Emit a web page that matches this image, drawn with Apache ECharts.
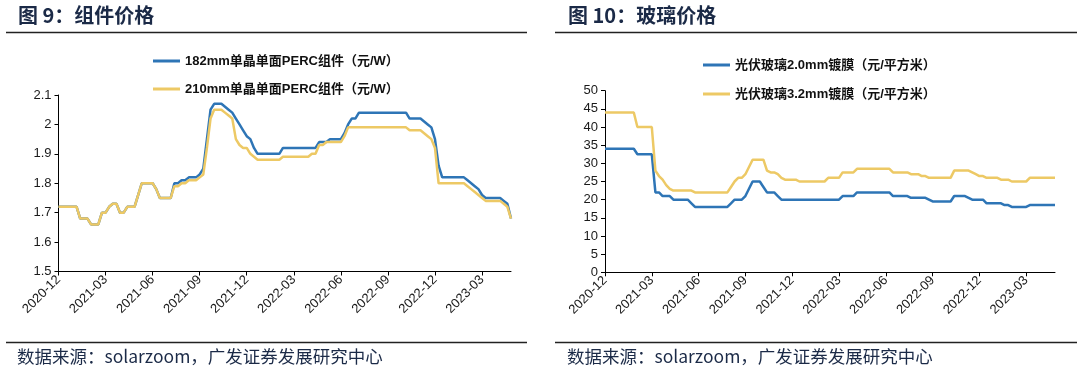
<!DOCTYPE html>
<html><head><meta charset="utf-8">
<script src="https://cdn.jsdelivr.net/npm/echarts@6/dist/echarts.min.js"></script>
<style>html,body{margin:0;padding:0;background:#fff}#c{width:1080px;height:370px}</style>
</head><body><div id="c"></div>
<script>
const weeks = [
'2020-12-04','2020-12-11','2020-12-18','2020-12-25',
'2021-01-01','2021-01-08','2021-01-15','2021-01-22','2021-01-29','2021-02-05','2021-02-12','2021-02-19','2021-02-26',
'2021-03-05','2021-03-12','2021-03-19','2021-03-26','2021-04-02','2021-04-09','2021-04-16','2021-04-23','2021-04-30',
'2021-05-07','2021-05-14','2021-05-21','2021-05-28','2021-06-04','2021-06-11','2021-06-18','2021-06-25','2021-07-02',
'2021-07-09','2021-07-16','2021-07-23','2021-07-30','2021-08-06','2021-08-13','2021-08-20','2021-08-27','2021-09-03',
'2021-09-10','2021-09-17','2021-09-24','2021-10-01','2021-10-08','2021-10-15','2021-10-22','2021-10-29','2021-11-05',
'2021-11-12','2021-11-19','2021-11-26','2021-12-03','2021-12-10','2021-12-17','2021-12-24','2021-12-31',
'2022-01-07','2022-01-14','2022-01-21','2022-01-28','2022-02-04','2022-02-11','2022-02-18','2022-02-25','2022-03-04',
'2022-03-11','2022-03-18','2022-03-25','2022-04-01','2022-04-08','2022-04-15','2022-04-22','2022-04-29','2022-05-06',
'2022-05-13','2022-05-20','2022-05-27','2022-06-03','2022-06-10','2022-06-17','2022-06-24','2022-07-01','2022-07-08',
'2022-07-15','2022-07-22','2022-07-29','2022-08-05','2022-08-12','2022-08-19','2022-08-26','2022-09-02','2022-09-09',
'2022-09-16','2022-09-23','2022-09-30','2022-10-07','2022-10-14','2022-10-21','2022-10-28','2022-11-04','2022-11-11',
'2022-11-18','2022-11-25','2022-12-02','2022-12-09','2022-12-16','2022-12-23','2022-12-30',
'2023-01-06','2023-01-13','2023-01-20','2023-01-27','2023-02-03','2023-02-10','2023-02-17','2023-02-24','2023-03-03',
'2023-03-10','2023-03-17','2023-03-24','2023-03-31','2023-04-07','2023-04-14','2023-04-21','2023-04-28'
];
const module182 = [
1.72,1.72,1.72,1.72,1.72,1.72, 1.68,1.68,1.68, 1.66,1.66,1.66, 1.70,1.70, 1.72, 1.73,1.73, 1.70,1.70,
1.72,1.72,1.72, 1.76, 1.80,1.80,1.80,1.80, 1.78, 1.75,1.75,1.75,1.75,
1.80,1.80, 1.81,1.81, 1.82,1.82,1.82, 1.83, 1.85, 1.95, 2.05, 2.07,2.07,2.07, 2.06, 2.05, 2.04, 2.02, 2.00,
1.98, 1.96, 1.95, 1.92, 1.90,1.90,1.90,1.90,1.90,1.90,1.90,
1.92,1.92,1.92,1.92,1.92,1.92,1.92,1.92,1.92,1.92, 1.94,1.94,1.94, 1.95,1.95,1.95,1.95, 1.97, 2.00, 2.02,2.02,
2.04,2.04,2.04,2.04,2.04,2.04,2.04,2.04,2.04,2.04,2.04,2.04,2.04,2.04,
2.02,2.02,2.02,2.02, 2.01, 2.00, 1.99, 1.95, 1.86,
1.82,1.82,1.82,1.82,1.82,1.82,1.82, 1.81, 1.80, 1.79, 1.78, 1.76, 1.75,1.75,1.75,1.75,1.75, 1.74, 1.73, 1.68
];
const module210 = [
1.72,1.72,1.72,1.72,1.72,1.72, 1.68,1.68,1.68, 1.66,1.66,1.66, 1.70,1.70, 1.72, 1.73,1.73, 1.70,1.70,
1.72,1.72,1.72, 1.76, 1.80,1.80,1.80,1.80, 1.78, 1.75,1.75,1.75,1.75,
1.79,1.79, 1.80,1.80, 1.81,1.81,1.81, 1.82, 1.83, 1.92, 2.02, 2.05,2.05,2.05, 2.04, 2.03, 2.02, 1.95, 1.93,
1.92,1.92, 1.90, 1.89, 1.88,1.88,1.88,1.88,1.88,1.88,1.88,
1.89,1.89,1.89,1.89,1.89,1.89,1.89,1.89, 1.90,1.90, 1.93,1.93, 1.94,1.94,1.94,1.94,1.94, 1.96,
1.99,1.99,1.99,1.99,1.99,1.99,1.99,1.99,1.99,1.99,1.99,1.99,1.99,1.99,1.99,1.99,1.99,
1.98,1.98,1.98,1.98, 1.97, 1.96, 1.95, 1.92,
1.80,1.80,1.80,1.80,1.80,1.80,1.80,1.80, 1.79, 1.78, 1.77, 1.76, 1.75, 1.74,1.74,1.74,1.74,1.74, 1.73, 1.72, 1.68
];
const glass20 = [
34,34,34,34,34,34,34,34,34, 32.5,32.5,32.5,32.5,32.5, 22,22, 21,21,21, 20,20,20,20,20, 19,
18,18,18,18,18,18,18,18,18,18, 19, 20,20,20, 21, 23, 25,25,25, 23.5, 22,22,22, 21,
20,20,20,20,20,20,20,20,20,20,20,20,20,20,20,20,20,
21,21,21,21, 22,22,22,22,22,22,22,22,22,22, 21,21,21,21,21, 20.5,20.5,20.5,20.5,20.5, 20,
19.5,19.5,19.5,19.5,19.5,19.5, 21,21,21,21, 20.5, 20,20,20,20, 19,19,19,19,19, 18.5,18.5,
18,18,18,18,18, 18.5,18.5,18.5,18.5,18.5,18.5,18.5,18.5
];
const glass32 = [
44,44,44,44,44,44,44,44,44, 40,40,40,40,40, 28, 26.5, 25.5, 24, 23, 22.5,22.5,22.5,22.5,22.5,22.5,
22,22,22,22,22,22,22,22,22,22, 23.5, 25, 26,26, 27, 29, 31,31,31,31, 28, 27.5,27.5, 27, 26,
25.5,25.5,25.5,25.5, 25,25,25,25,25,25,25,25, 26,26,26,26, 27.5,27.5,27.5,27.5,
28.5,28.5,28.5,28.5,28.5,28.5,28.5,28.5,28.5,28.5, 27.5,27.5,27.5,27.5,27.5, 27,27,27, 26.5,26.5,
26,26,26,26,26,26,26, 28,28,28,28,28, 27.5, 27, 26.5,26.5, 26,26,26,26, 25.5,25.5,25.5,
25,25,25,25,25, 26,26,26,26,26,26,26,26
];
const name182 = '182mm单晶单面PERC组件（元/W）';
const name210 = '210mm单晶单面PERC组件（元/W）';
const name20 = '光伏玻璃2.0mm镀膜（元/平方米）';
const name32 = '光伏玻璃3.2mm镀膜（元/平方米）';

const FONT = "'Liberation Sans', 'Noto Sans CJK SC', sans-serif";
const CJK = "'Noto Sans CJK SC', 'Liberation Sans', sans-serif";
const BLUE = '#2E75B6', YELLOW = '#EDC965', NAVY = '#1b2a47';
const every13 = (i) => i % 13 === 0;

function xAxis(grid) {
  return {
    type: 'category', gridIndex: grid, data: weeks, boundaryGap: false,
    axisLine: { lineStyle: { color: '#000', width: 1 } },
    axisTick: { interval: every13, length: 4, lineStyle: { color: '#000' } },
    axisLabel: { interval: every13, rotate: 45, fontSize: 13, color: '#1a1a1a', fontFamily: FONT, margin: 6,
      formatter: (v) => v.slice(0, 7) },
    splitLine: { show: false }
  };
}
function yAxis(grid, min, max, interval) {
  return {
    type: 'value', gridIndex: grid, min, max, interval,
    axisLine: { show: true, lineStyle: { color: '#000', width: 1 } },
    axisTick: { show: true, length: 4, lineStyle: { color: '#000' } },
    axisLabel: { fontSize: 13, color: '#1a1a1a', fontFamily: FONT, margin: 7 },
    splitLine: { show: false }
  };
}
function line(name, data, color, xi) {
  return { name, type: 'line', xAxisIndex: xi, yAxisIndex: xi, data, symbol: 'none',
    lineStyle: { color, width: 2.5 }, itemStyle: { color }, animation: false };
}
const chart = echarts.init(document.getElementById('c'), null, { renderer: 'canvas' });
chart.setOption({
  backgroundColor: '#fff',
  animation: false,
  title: [
    { text: '图 9：组件价格', left: 18, top: 5, padding: 0, textStyle: { fontSize: 20, fontWeight: 'bold', color: NAVY, fontFamily: CJK } },
    { text: '图 10：玻璃价格', left: 568, top: 5, padding: 0, textStyle: { fontSize: 20, fontWeight: 'bold', color: NAVY, fontFamily: CJK } },
    { text: '数据来源：solarzoom，广发证券发展研究中心', left: 17, top: 348, padding: 0, textStyle: { fontSize: 17.5, fontWeight: 'normal', color: NAVY, fontFamily: CJK } },
    { text: '数据来源：solarzoom，广发证券发展研究中心', left: 567, top: 348, padding: 0, textStyle: { fontSize: 17.5, fontWeight: 'normal', color: NAVY, fontFamily: CJK } }
  ],
  graphic: [
    { type: 'line', shape: { x1: 6, y1: 32.5, x2: 527, y2: 32.5 }, style: { stroke: '#222', lineWidth: 1.5 } },
    { type: 'line', shape: { x1: 555, y1: 32.5, x2: 1077, y2: 32.5 }, style: { stroke: '#222', lineWidth: 1.5 } },
    { type: 'line', shape: { x1: 6, y1: 342.5, x2: 527, y2: 342.5 }, style: { stroke: '#222', lineWidth: 1.5 } },
    { type: 'line', shape: { x1: 555, y1: 342.5, x2: 1077, y2: 342.5 }, style: { stroke: '#222', lineWidth: 1.5 } }
  ],
  legend: [
    { data: [name182, name210], orient: 'vertical', left: 153, top: 54, padding: 0, itemGap: 14,
      icon: 'rect', itemWidth: 27, itemHeight: 3,
      textStyle: { fontSize: 13, fontWeight: 'bold', color: '#111', fontFamily: FONT, lineHeight: 14 } },
    { data: [name20, name32], orient: 'vertical', left: 703, top: 58, padding: 0, itemGap: 15,
      icon: 'rect', itemWidth: 27, itemHeight: 3,
      textStyle: { fontSize: 13, fontWeight: 'bold', color: '#111', fontFamily: FONT, lineHeight: 14 } }
  ],
  grid: [
    { left: 58.5, right: 569, top: 95, bottom: 98.5 },
    { left: 605, right: 25, top: 90.7, bottom: 97.7 }
  ],
  xAxis: [xAxis(0), xAxis(1)],
  yAxis: [yAxis(0, 1.5, 2.1, 0.1), yAxis(1, 0, 50, 5)],
  series: [
    line(name182, module182, BLUE, 0),
    line(name210, module210, YELLOW, 0),
    line(name20, glass20, BLUE, 1),
    line(name32, glass32, YELLOW, 1)
  ]
});
</script></body></html>
